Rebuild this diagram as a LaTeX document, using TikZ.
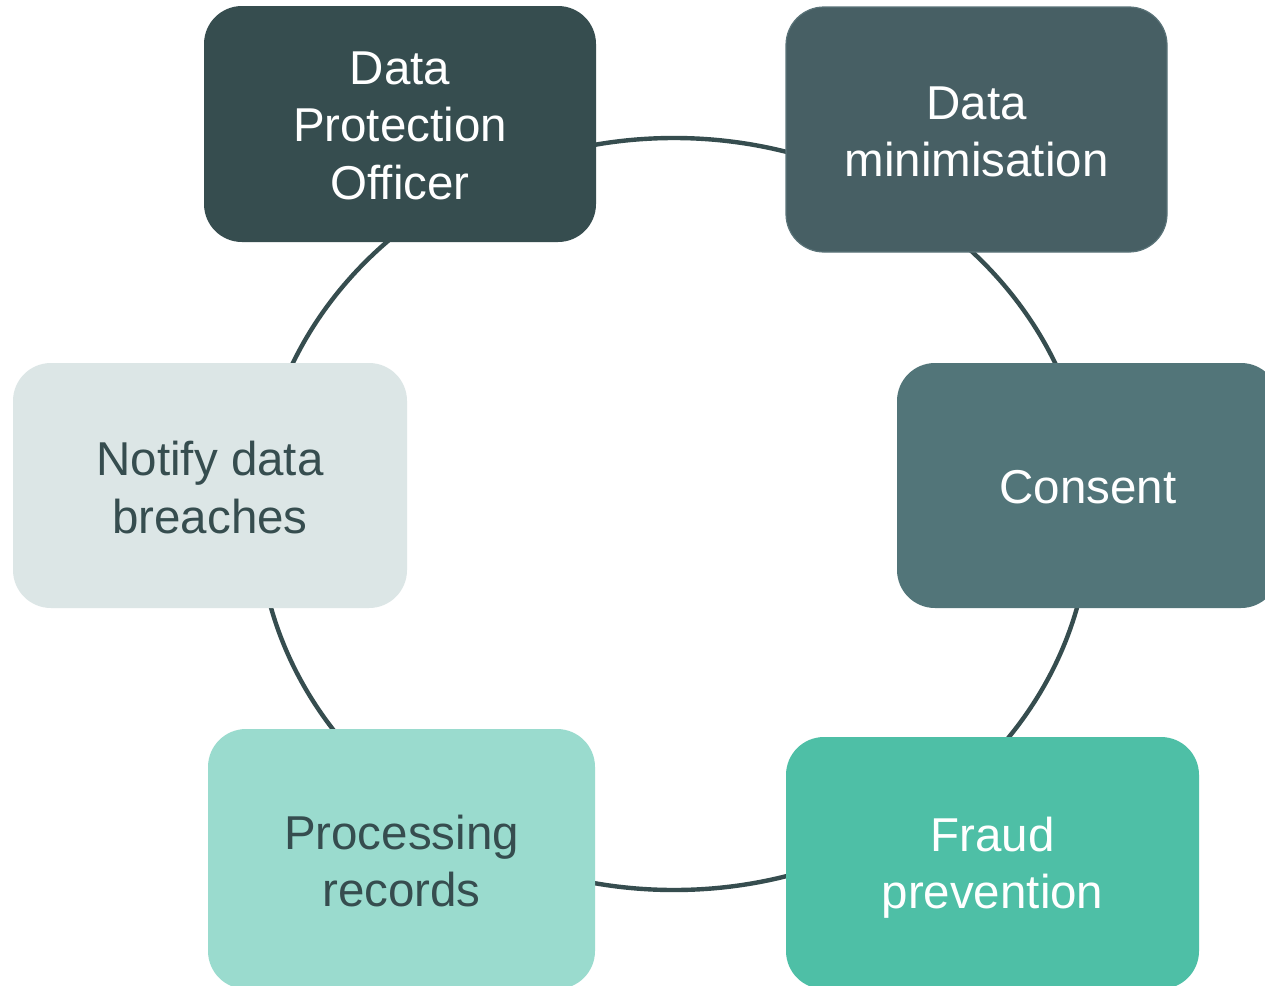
\documentclass[tikz,border=0pt]{standalone}
\usepackage{fontspec}
\setmainfont{Liberation Sans}
\definecolor{ring}{HTML}{364D4F}
\definecolor{cDPO}{HTML}{364D4F}
\definecolor{cMin}{HTML}{475F64}
\definecolor{cMinB}{HTML}{5A7378}
\definecolor{cCon}{HTML}{527579}
\definecolor{cFraud}{HTML}{4EBFA6}
\definecolor{cProc}{HTML}{9ADBCE}
\definecolor{cNote}{HTML}{DCE6E6}
\tikzset{
  card/.style={rectangle, rounded corners=38pt, inner sep=0pt},
  lbl/.style={inner sep=0pt, align=center, font=\fontsize{47.5}{57.5}\selectfont},
  lightlbl/.style={lbl, text=ring},
  darklbl/.style={lbl, text=white},
  ringline/.style={draw=ring, line width=4.4pt}
}
\begin{document}
\begin{tikzpicture}[x=1pt,y=-1pt]
\useasboundingbox (0,0) rectangle (1265,985);
\clip (0,0) rectangle (1265,985);
\fill[white] (0,0) rectangle (1265,985);
\coordinate (c) at (674,514);
\draw[ringline] (c) ellipse [x radius=416, y radius=376];
\node[card, fill=cDPO, minimum width=392pt, minimum height=236pt] (dpo) at (400,124) {};
\node[darklbl] (dpoT) at ([yshift=-1.5pt]dpo.center) {Data\\Protection\\Officer};
\node[card, fill=cMin, draw=cMinB, line width=1.2pt, minimum width=381pt, minimum height=245pt] (min) at (976.5,129.5) {};
\node[darklbl] (minT) at ([yshift=-2.5pt]min.center) {Data\\minimisation};
\node[card, fill=cCon, minimum width=382pt, minimum height=245pt] (con) at (1088,485.5) {};
\node[darklbl] (conT) at ([yshift=-2pt]con.center) {Consent};
\node[card, fill=cFraud, minimum width=413pt, minimum height=252pt] (fraud) at (992.5,863) {};
\node[darklbl] (fraudT) at ([yshift=-4.5pt]fraud.center) {Fraud\\prevention};
\node[card, fill=cProc, minimum width=387pt, minimum height=260pt] (proc) at (401.5,859) {};
\node[lightlbl] (procT) at ([yshift=-2pt]proc.center) {Processing\\records};
\node[card, fill=cNote, minimum width=394pt, minimum height=245pt] (note) at (210,485.5) {};
\node[lightlbl] (noteT) at ([yshift=-2pt]note.center) {Notify data\\breaches};
\end{tikzpicture}
\end{document}
